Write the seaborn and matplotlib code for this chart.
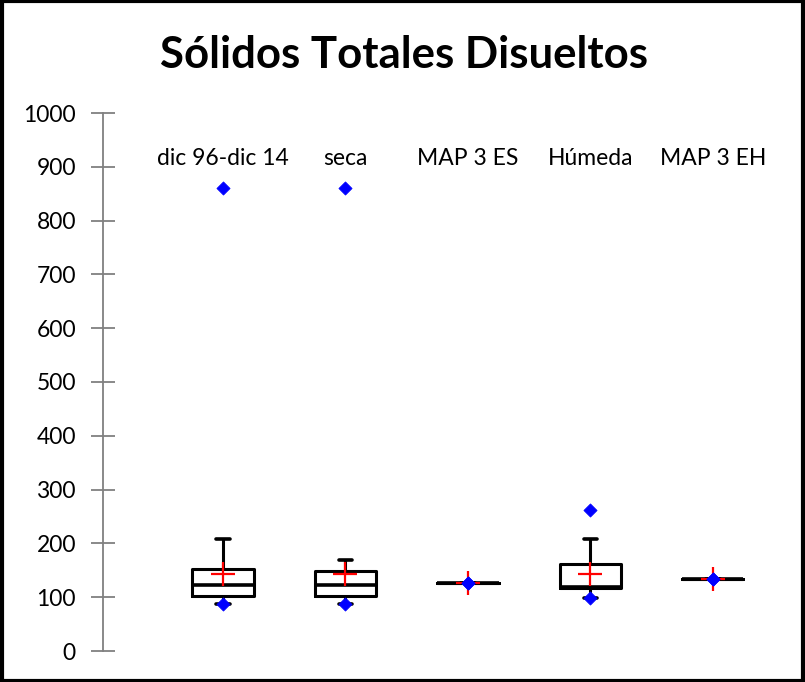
import matplotlib
matplotlib.use("Agg")
import matplotlib.pyplot as plt
import seaborn as sns
import pandas as pd
from matplotlib.patches import Rectangle

categories = ["dic 96-dic 14", "seca", "MAP 3 ES", "Húmeda", "MAP 3 EH"]
whisker_low = [87, 87, 126, 98, 134]
q1 = [102, 102, 126, 117, 134]
median = [123, 123, 126, 119, 134]
q3 = [152, 149, 126, 162, 134]
whisker_high = [208, 169, 126, 208, 134]
means = [143, 143, 126, 143, 134]
minimums = [87, 87, 126, 98, 134]
maximums = [860, 860, 126, 262, 134]
yticks = [0, 100, 200, 300, 400, 500, 600, 700, 800, 900, 1000]

sns.set_theme(style="white")
plt.rcParams['font.family'] = ['Lato', 'DejaVu Sans']
plt.rcParams['text.color'] = 'black'
plt.rcParams['ytick.labelcolor'] = 'black'

fig = plt.figure(figsize=(8.05, 6.82), dpi=100)
W, H = 805, 682
ax = fig.add_axes([103 / W, (H - 651) / H, (790 - 103) / W, (651 - 113) / H])

stats = []
for i, c in enumerate(categories):
    stats.append(dict(label=c, whislo=whisker_low[i], q1=q1[i], med=median[i],
                      q3=q3[i], whishi=whisker_high[i], fliers=[]))
pos = list(range(len(categories)))
ax.bxp(stats, positions=pos, widths=0.5, showfliers=False, showcaps=True,
       boxprops=dict(color="black", linewidth=2.2),
       medianprops=dict(color="black", linewidth=2.6),
       whiskerprops=dict(color="black", linewidth=2.2),
       capprops=dict(color="black", linewidth=2.6), capwidths=0.11)

df_min = pd.DataFrame({"x": pos, "y": minimums})
df_max = pd.DataFrame({"x": pos, "y": maximums})
df_mean = pd.DataFrame({"x": pos, "y": means})
sns.scatterplot(data=df_mean, x="x", y="y", marker="+", s=300, color="red",
                linewidth=1.6, ax=ax, zorder=5)
sns.scatterplot(data=df_min, x="x", y="y", marker="D", s=45, color="blue",
                edgecolor="blue", ax=ax, zorder=6)
sns.scatterplot(data=df_max, x="x", y="y", marker="D", s=45, color="blue",
                edgecolor="blue", ax=ax, zorder=6)

for i, c in enumerate(categories):
    ax.text(i, 915, c, ha="center", va="center", fontsize=16.5, color="black")

ax.set_xlim(-0.98, 4.63)
ax.set_ylim(0, 1000)
ax.set_yticks(yticks)
ax.set_yticklabels([str(t) for t in yticks], fontsize=16.5, color="black")
ax.set_xticks([])
ax.set_xlabel("")
ax.set_ylabel("")
for s in ["top", "right", "bottom"]:
    ax.spines[s].set_visible(False)
ax.spines["left"].set_color("#808080")
ax.spines["left"].set_linewidth(1.3)
ax.tick_params(axis="y", which="major", direction="inout", length=17, width=1.3,
               color="#808080", left=True, pad=11)
ax.patch.set_alpha(0)

fig.text(404 / W, 1 - 55 / H, "Sólidos Totales Disueltos", ha="center", va="center",
         fontsize=31.5, fontweight="bold", color="black")
fig.patches.append(Rectangle((0.002, 0.002), 0.996, 0.996, transform=fig.transFigure,
                             fill=False, edgecolor="black", linewidth=3))

fig.savefig("out.png", dpi=100)
